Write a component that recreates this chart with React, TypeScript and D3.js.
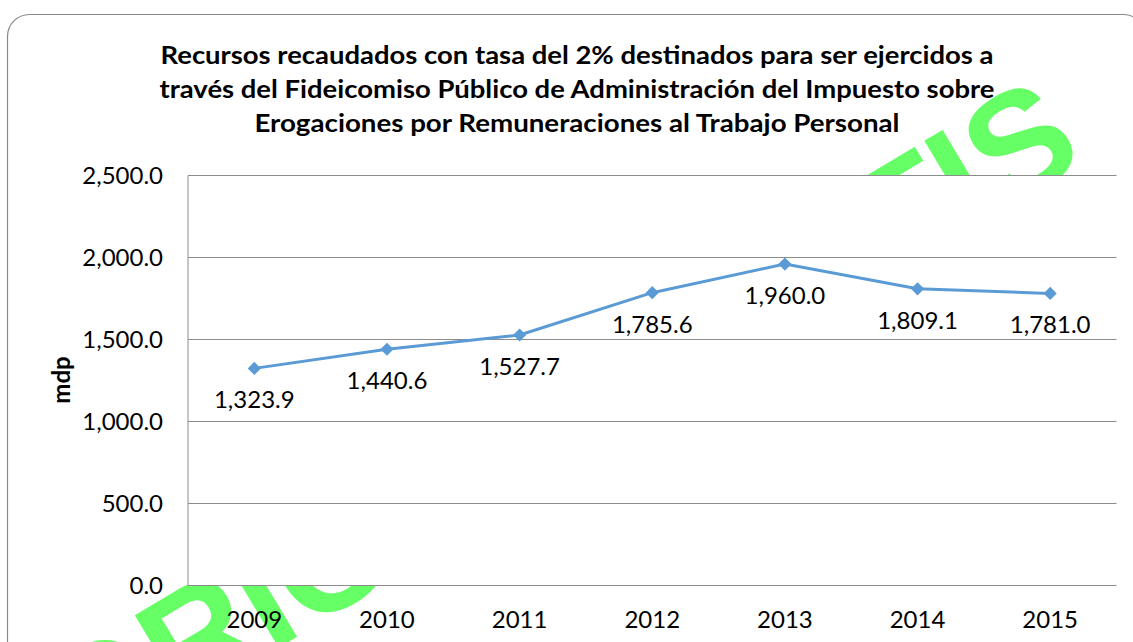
import React from "react";
import * as d3 from "d3";

const years = ["2009", "2010", "2011", "2012", "2013", "2014", "2015"];
const values = [1323.9, 1440.6, 1527.7, 1785.6, 1960.0, 1809.1, 1781.0];
const yTicks = [0, 500, 1000, 1500, 2000, 2500];
const titleLines = [
  "Recursos recaudados con tasa del 2% destinados para ser ejercidos a",
  "través del Fideicomiso Público de Administración del Impuesto sobre",
  "Erogaciones por Remuneraciones al Trabajo Personal",
];
const titleWidths = [833, 835, 645];
const yLabel = "mdp";
const watermarkA = "ORIGINAL";
const watermarkB = "TIS";

const W = 1133;
const H = 642;
const plot = { left: 188, right: 1116.5, top: 175.5, bottom: 585.5 };
const FONT = "Lato, 'Open Sans', sans-serif";
const BLUE = "#5b9bd5";
const GRID = "#8c8c8c";

const fmt = d3.format(",.1f");

export default function App() {
  const x = d3.scaleBand<string>().domain(years).range([plot.left, plot.right]);
  const y = d3.scaleLinear().domain([0, 2500]).range([plot.bottom, plot.top]);
  const cx = (d: string) => (x(d) as number) + x.bandwidth() / 2;

  const line = d3
    .line<number>()
    .x((_, i) => cx(years[i]))
    .y((v) => y(v));

  const diamond = d3.symbol().type(d3.symbolDiamond2).size(110)() as string;

  return (
    <svg
      width={W}
      height={H}
      style={{ position: "absolute", left: 0, top: 0, background: "#fff" }}
      fontFamily={FONT}
    >
      <rect x={0} y={0} width={W} height={H} fill="#fff" />
      {/* watermark behind everything */}
      <text
        transform="translate(80,767) rotate(-31)"
        fontFamily="'Liberation Sans', Arial, sans-serif"
        fontWeight="bold"
        fontSize={148}
        fill="#66ff66"
      >
        <tspan x={0}>{watermarkA}</tspan>
        <tspan x={946}>{watermarkB}</tspan>
      </text>
      {/* outer chart border */}
      <rect
        x={7.5}
        y={14.5}
        width={1138}
        height={660}
        rx={22}
        ry={22}
        fill="none"
        stroke="#8a8a8a"
        strokeWidth={1.2}
      />
      {/* plot area */}
      <rect
        x={plot.left}
        y={plot.top}
        width={plot.right - plot.left}
        height={plot.bottom - plot.top}
        fill="#fff"
      />
      {/* title */}
      {titleLines.map((t, i) => (
        <text
          key={i}
          x={577}
          y={64 + i * 34}
          textAnchor="middle"
          fontWeight="bold"
          fontSize={24}
          fill="#000"
          textLength={titleWidths[i]}
          lengthAdjust="spacingAndGlyphs"
        >
          {t}
        </text>
      ))}
      {/* gridlines */}
      {yTicks.map((t) => (
        <line
          key={t}
          x1={plot.left}
          x2={plot.right}
          y1={y(t)}
          y2={y(t)}
          stroke={GRID}
          strokeWidth={1}
        />
      ))}
      <line
        x1={plot.left}
        x2={plot.left}
        y1={plot.top}
        y2={plot.bottom}
        stroke={GRID}
        strokeWidth={1}
      />
      {/* y tick labels */}
      {yTicks.map((t) => (
        <text
          key={t}
          x={163}
          y={y(t) + 8.5}
          textAnchor="end"
          fontSize={24}
          fill="#000"
        >
          {fmt(t)}
        </text>
      ))}
      {/* x labels */}
      {years.map((yr) => (
        <text
          key={yr}
          x={cx(yr)}
          y={628}
          textAnchor="middle"
          fontSize={24}
          fill="#000"
        >
          {yr}
        </text>
      ))}
      {/* y axis title */}
      <text
        transform="translate(70,380) rotate(-90)"
        textAnchor="middle"
        fontWeight="bold"
        fontSize={24}
        fill="#000"
      >
        {yLabel}
      </text>
      {/* line */}
      <path d={line(values) as string} fill="none" stroke={BLUE} strokeWidth={3} strokeLinejoin="round" />
      {values.map((v, i) => (
        <path key={i} d={diamond} transform={`translate(${cx(years[i])},${y(v)})`} fill={BLUE} />
      ))}
      {/* data labels */}
      {values.map((v, i) => (
        <text
          key={i}
          x={cx(years[i])}
          y={y(v) + 40}
          textAnchor="middle"
          fontSize={24}
          fill="#000"
        >
          {fmt(v)}
        </text>
      ))}
    </svg>
  );
}
